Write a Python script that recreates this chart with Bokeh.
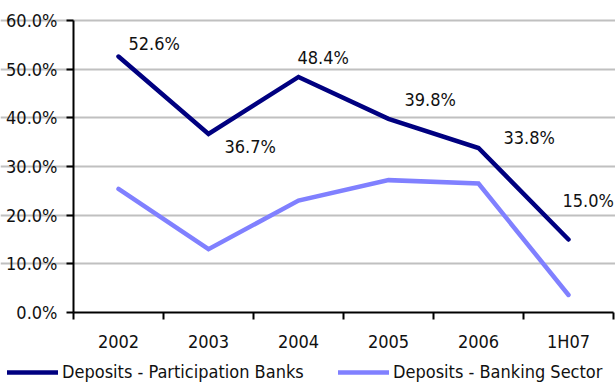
from bokeh.plotting import figure
from bokeh.models import (Range1d, FixedTicker, PrintfTickFormatter, Legend, LegendItem,
                          ColumnDataSource)
from bokeh.core.properties import value
from bokeh.embed import file_html
from bokeh.resources import INLINE

# ---- data ----
categories = ["2002", "2003", "2004", "2005", "2006", "1H07"]
participation = [52.6, 36.7, 48.4, 39.8, 33.8, 15.0]
banking = [25.4, 13.0, 23.0, 27.2, 26.5, 3.6]
y_ticks = [0, 10, 20, 30, 40, 50, 60]
series_names = ["Deposits - Participation Banks", "Deposits - Banking Sector"]

# ---- styles ----
FONT = "'DejaVu Sans Condensed', 'Liberation Sans Narrow', sans-serif"
FS = "18px"
NAVY = "#000080"
LIGHT = "#8080ff"
label_dx = [10, 16, -1, 16, 25, -6]
label_dy = [-13, 13, -19, -19, -11, -39]

W, H = 615, 388
LEFT, RIGHT, TOP, BOTTOM = 73, 613, 20, 312   # plot-area box in pixels
n = len(categories)
px_x = (RIGHT - LEFT) / n
px_y = (BOTTOM - TOP) / y_ticks[-1]
x0 = -0.5 - LEFT / px_x
x1 = n - 0.5 + (W - RIGHT) / px_x
y0 = -(H - BOTTOM) / px_y
y1 = y_ticks[-1] + TOP / px_y

xs = list(range(n))

p = figure(width=W, height=H, output_backend="svg", toolbar_location=None,
           x_range=Range1d(x0, x1), y_range=Range1d(y0, y1),
           min_border_left=0, min_border_right=0, min_border_top=0, min_border_bottom=0)
p.outline_line_color = None
p.background_fill_color = "white"
p.border_fill_color = "white"

p.xgrid.grid_line_color = None
p.ygrid.ticker = FixedTicker(ticks=y_ticks[1:])
p.ygrid.grid_line_color = "#c0c0c0"
p.ygrid.grid_line_width = 2
p.ygrid.bounds = (-0.5, n - 0.5)

r1 = p.line(xs, participation, line_color=NAVY, line_width=4.5, line_cap="round", line_join="miter")
r2 = p.line(xs, banking, line_color=LIGHT, line_width=4.5, line_cap="round", line_join="miter")

lab_src = ColumnDataSource(dict(x=xs, y=participation,
                                t=["%.1f%%" % v for v in participation],
                                dx=label_dx, dy=label_dy))
p.text("x", "y", text="t", source=lab_src, x_offset="dx", y_offset="dy",
       text_font=value(FONT), text_font_size=FS, text_color="#111111",
       text_align="left", text_baseline="alphabetic")

# axes (fixed inside the frame)
p.yaxis.fixed_location = -0.5
p.yaxis.bounds = (0, y_ticks[-1])
p.yaxis.ticker = FixedTicker(ticks=y_ticks)
p.yaxis.formatter = PrintfTickFormatter(format="%.1f%%")
p.yaxis.axis_line_width = 2
p.yaxis.axis_line_color = "black"
p.yaxis.major_tick_out = 7
p.yaxis.major_tick_in = 0
p.yaxis.major_tick_line_width = 2
p.yaxis.minor_tick_line_color = None
p.yaxis.major_label_standoff = 9
p.yaxis.major_label_text_font = FONT
p.yaxis.major_label_text_font_size = FS
p.yaxis.major_label_text_color = "#111111"

bounds = [i - 0.5 for i in range(n + 1)]
p.xaxis.fixed_location = 0
p.xaxis.bounds = (-0.5, n - 0.5)
p.xaxis.ticker = FixedTicker(ticks=xs, minor_ticks=bounds)
p.xaxis.major_label_overrides = {i: c for i, c in enumerate(categories)}
p.xaxis.axis_line_width = 2
p.xaxis.axis_line_color = "black"
p.xaxis.major_tick_line_color = None
p.xaxis.major_tick_out = 0
p.xaxis.major_tick_in = 0
p.xaxis.minor_tick_out = 7
p.xaxis.minor_tick_in = 0
p.xaxis.minor_tick_line_width = 2
p.xaxis.minor_tick_line_color = "black"
p.xaxis.major_label_standoff = 11
p.xaxis.major_label_text_font = FONT
p.xaxis.major_label_text_font_size = FS
p.xaxis.major_label_text_color = "#111111"

def make_legend(renderer, name, loc):
    lg = Legend(items=[LegendItem(label=name, renderers=[renderer])], location=loc,
                orientation="horizontal", padding=0, margin=0, spacing=0,
                glyph_width=51, glyph_height=20, label_standoff=4,
                label_text_font=FONT, label_text_font_size=FS, label_text_color="#111111",
                border_line_color=None, background_fill_alpha=0)
    p.add_layout(lg, "center")

make_legend(r1, series_names[0], (7, 6))
make_legend(r2, series_names[1], (338, 6))

open("out.html", "w").write(file_html(p, INLINE))
